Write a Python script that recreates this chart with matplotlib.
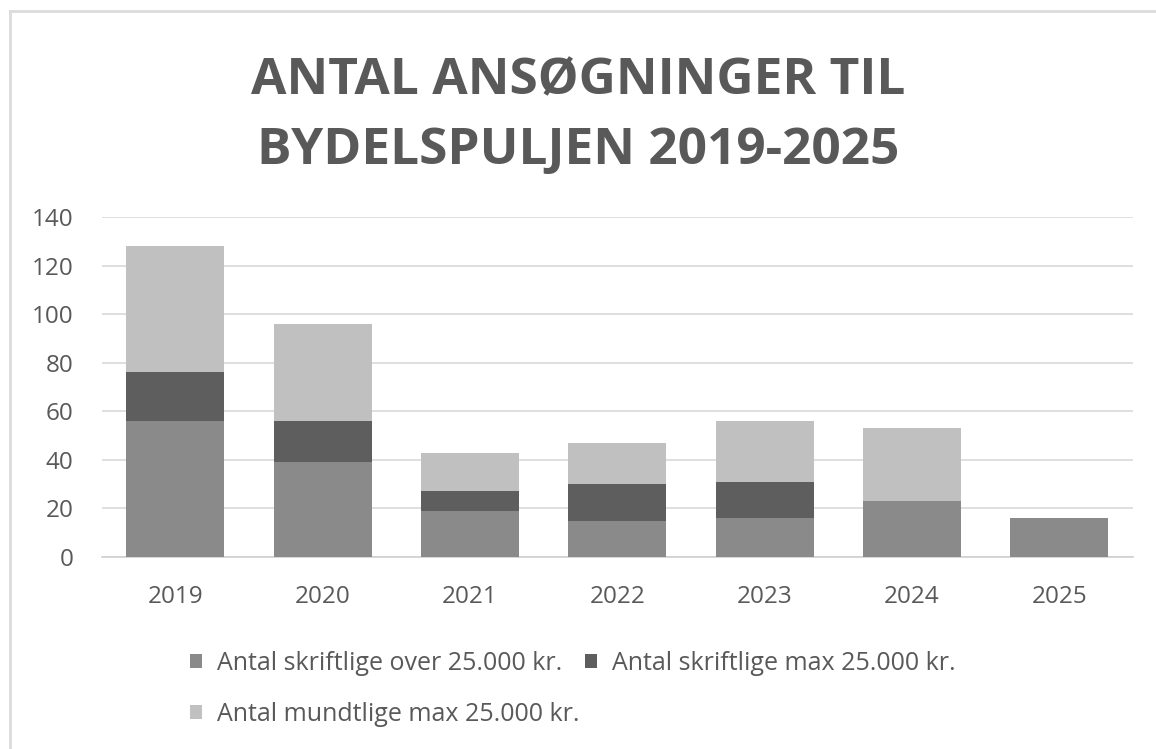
import matplotlib
matplotlib.use("Agg")
import matplotlib.pyplot as plt
from matplotlib.lines import Line2D
import numpy as np

years = ["2019", "2020", "2021", "2022", "2023", "2024", "2025"]
skriftlige_over = [56, 39, 19, 15, 16, 23, 16]
skriftlige_max = [20, 17, 8, 15, 15, 0, 0]
mundtlige_max = [52, 40, 16, 17, 25, 30, 0]
labels = ["Antal skriftlige over 25.000 kr.", "Antal skriftlige max 25.000 kr.",
          "Antal mundtlige max 25.000 kr."]
yticks = [0, 20, 40, 60, 80, 100, 120, 140]
title = "ANTAL ANSØGNINGER TIL\nBYDELSPULJEN 2019-2025"

colors = ["#8a8a8a", "#5e5e5e", "#c0c0c0"]
txt = "#595959"

plt.rcParams['font.family'] = ['Open Sans', 'DejaVu Sans']

fig = plt.figure(figsize=(11.56, 7.49), dpi=100)
ax = fig.add_axes([101.5/1156, 1 - 557/749, (1133 - 101.5)/1156, 340/749])

x = np.arange(len(years))
w = 0.665
b1 = ax.bar(x, skriftlige_over, w, color=colors[0], label=labels[0], zorder=3)
bottom2 = np.array(skriftlige_over)
b2 = ax.bar(x, skriftlige_max, w, bottom=bottom2, color=colors[1], label=labels[1], zorder=3)
bottom3 = bottom2 + np.array(skriftlige_max)
b3 = ax.bar(x, mundtlige_max, w, bottom=bottom3, color=colors[2], label=labels[2], zorder=3)

ax.set_xlim(-0.5, len(years) - 0.5)
ax.set_ylim(0, 140)
ax.set_yticks(yticks)
ax.set_yticklabels([str(v) for v in yticks], fontsize=17.5, color=txt)
ax.set_xticks(x)
ax.set_xticklabels(years, fontsize=17.5, color=txt)
ax.tick_params(axis='both', length=0)
ax.tick_params(axis='y', pad=20)
ax.tick_params(axis='x', pad=20)
ax.grid(axis='y', color='#d9d9d9', linewidth=1.2, zorder=0)
for s in ['top', 'right', 'left']:
    ax.spines[s].set_visible(False)
ax.spines['bottom'].set_color('#d0d0d0')
ax.spines['bottom'].set_linewidth(1.2)

fig.text(0.5, 1 - 116/749, title, ha='center', va='center', fontsize=37,
         fontweight='bold', color=txt, linespacing=1.52)

handles = [b1, b3, b2]
labs = [labels[0], labels[2], labels[1]]
leg = fig.legend(handles, labs, ncol=2, loc='upper left',
                 bbox_to_anchor=(167/1156, 1 - 628/749), frameon=False,
                 fontsize=18, labelcolor=txt, handlelength=0.5, handleheight=0.5,
                 handletextpad=0.6, columnspacing=0.2, labelspacing=1.05,
                 borderpad=0.4)

# light border lines (top and left)
fig.add_artist(Line2D([10/1156, 1], [1 - 11/749, 1 - 11/749], transform=fig.transFigure,
                      color='#dcdcdc', linewidth=2))
fig.add_artist(Line2D([10/1156, 10/1156], [0, 1 - 11/749], transform=fig.transFigure,
                      color='#dcdcdc', linewidth=2))

fig.savefig("out.png", dpi=100, facecolor='white')
